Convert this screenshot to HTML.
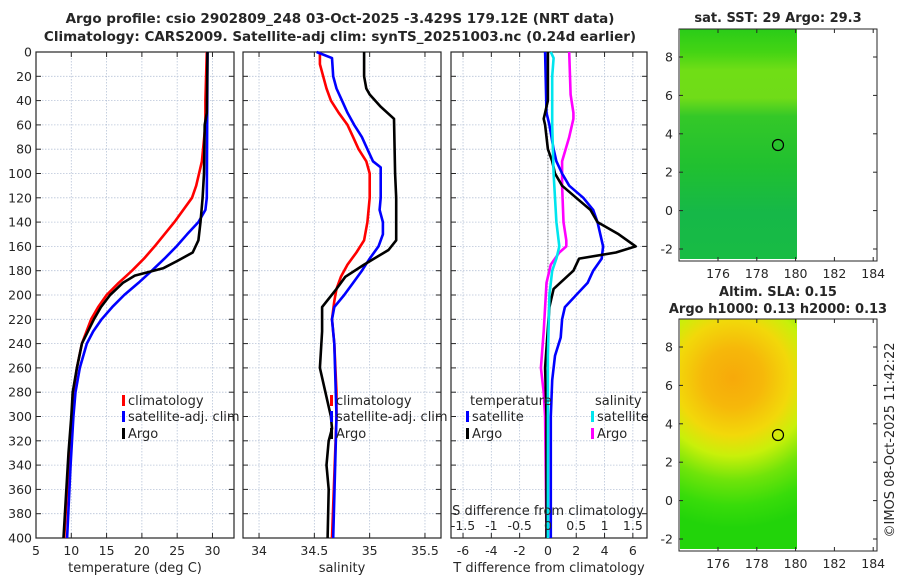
<!DOCTYPE html>
<html><head><meta charset="utf-8"><style>
body{margin:0;background:#fff;}
svg text{font-family:"DejaVu Sans","Liberation Sans",sans-serif;fill:#262626;}
</style></head><body>
<svg id="fig" width="900" height="580" viewBox="0 0 900 580" xmlns="http://www.w3.org/2000/svg">
<defs>
<radialGradient id="slaGrad" gradientUnits="userSpaceOnUse" cx="733" cy="378" r="150" fx="733" fy="378">
<stop offset="0" stop-color="#f7a90a"/><stop offset="0.2" stop-color="#f6b80a"/><stop offset="0.38" stop-color="#f2d80a"/><stop offset="0.52" stop-color="#c8f00a"/><stop offset="0.68" stop-color="#70e40a"/><stop offset="0.85" stop-color="#38dc0a"/><stop offset="1" stop-color="#22d40a"/>
</radialGradient>
<linearGradient id="sstGrad" x1="0" y1="0" x2="0" y2="1">
<stop offset="0" stop-color="#2acc18"/><stop offset="0.1" stop-color="#44d414"/><stop offset="0.18" stop-color="#70de16"/><stop offset="0.3" stop-color="#70dc18"/><stop offset="0.38" stop-color="#34c828"/><stop offset="0.6" stop-color="#20c030"/><stop offset="0.8" stop-color="#16b848"/><stop offset="1" stop-color="#18bc44"/>
</linearGradient>
</defs>
<text x="340" y="23" text-anchor="middle" font-size="13.5" font-weight="bold">Argo profile: csio 2902809_248 03-Oct-2025 -3.429S 179.12E (NRT data)</text>
<text x="340" y="41" text-anchor="middle" font-size="13.5" font-weight="bold">Climatology: CARS2009. Satellite-adj clim: synTS_20251003.nc (0.24d earlier)</text>
<g id="plots"></g>
<g>
<text x="778" y="22" text-anchor="middle" font-size="13" font-weight="bold">sat. SST: 29 Argo: 29.3</text>
<rect x="680" y="29" width="117" height="230" fill="url(#sstGrad)"/>
<rect x="679" y="29" width="198" height="232" fill="none" stroke="#262626" stroke-width="1"/>
<circle cx="778" cy="145" r="5.5" fill="none" stroke="#000" stroke-width="1.2"/>
</g>
<g>
<text x="778" y="296" text-anchor="middle" font-size="13" font-weight="bold">Altim. SLA: 0.15</text>
<text x="778" y="313" text-anchor="middle" font-size="13" font-weight="bold">Argo h1000: 0.13 h2000: 0.13</text>
<rect x="680" y="319" width="117" height="230" fill="url(#slaGrad)"/>
<rect x="679" y="319" width="198" height="232" fill="none" stroke="#262626" stroke-width="1"/>
<circle cx="778" cy="435" r="5.5" fill="none" stroke="#000" stroke-width="1.2"/>
</g>
<g id="maps"></g>
<text transform="translate(894,440) rotate(-90)" text-anchor="middle" font-size="13">©IMOS 08-Oct-2025 11:42:22</text>
</svg>
<script>
const depths1 = [0,40,60,90,110,120,140,160,170,180,190,200,210,220,240,260,280,300,340,400];
const tempClim = [29.2,29.0,29.0,28.5,27.7,27.1,24.6,21.8,20.3,18.6,16.7,15.0,13.8,12.8,11.5,10.8,10.3,10.1,9.6,9.0];
const depths2 = [0,120,130,140,150,160,170,180,190,200,210,220,230,240,260,280,300,340,400];
const tempSat = [29.3,29.2,29.0,28.0,26.4,24.9,23.2,21.4,19.5,17.5,15.8,14.3,13.1,12.2,11.2,10.6,10.3,9.9,9.4];
const depthsArgoT = [0,50,60,100,120,140,155,165,172,178,184,190,200,210,220,240,260,280,300,330,400];
const tempArgo = [29.3,29.2,28.9,28.8,28.6,28.3,28.0,27.2,25.0,23.0,19.0,17.3,15.5,14.2,13.2,11.5,10.8,10.2,10.0,9.6,8.9];

const depthsSC = [0,10,30,40,50,60,70,80,90,100,120,140,155,165,175,185,195,205,220,240,280,300,400];
const salClim = [34.55,34.55,34.61,34.65,34.72,34.8,34.85,34.9,34.97,35.0,35.0,34.98,34.95,34.88,34.8,34.74,34.7,34.68,34.66,34.68,34.7,34.7,34.66];
const depthsSS = [0,5,20,30,40,50,60,70,80,90,95,120,130,140,150,160,170,180,190,200,210,220,240,300,400];
const salSat = [34.52,34.66,34.67,34.7,34.75,34.8,34.86,34.93,34.98,35.03,35.1,35.1,35.09,35.12,35.12,35.08,35.0,34.93,34.85,34.77,34.68,34.66,34.68,34.7,34.67];
const depthsSA = [0,20,30,35,45,55,100,120,155,163,175,185,195,210,230,260,280,300,310,320,340,360,400];
const salArgo = [34.95,34.95,34.97,35.0,35.1,35.22,35.23,35.24,35.24,35.17,34.95,34.78,34.7,34.57,34.57,34.55,34.6,34.65,34.66,34.63,34.61,34.63,34.62];

const depthsDT = [0,50,60,80,90,100,110,120,130,140,160,170,180,190,200,210,220,235,250,270,300,400];
const dTsat = [-0.2,-0.1,0.1,0.4,0.6,1.0,1.5,2.5,3.2,3.5,3.9,3.8,3.2,2.8,2.0,1.2,1.0,0.9,0.5,0.3,0.2,0.2];
const depthsDA = [0,40,50,55,60,80,90,100,110,120,130,140,150,160,165,170,180,195,210,260,300,400];
const dTargo = [0,0,-0.2,-0.3,-0.2,0,0.3,0.5,1.0,2.0,3.0,3.5,5.0,6.2,4.8,2.2,1.8,0.4,0.1,-0.2,-0.1,-0.1];
const depthsDS = [0,5,20,60,100,140,160,170,180,200,250,300,400];
const dSsat = [0.05,0.1,0.075,0.075,0.1,0.15,0.2,0.15,0.075,0.025,0,0,0];
const depthsDSA = [0,35,50,55,70,90,110,140,155,160,165,175,190,230,260,280,300,400];
const dSargo = [0.375,0.4,0.45,0.45,0.375,0.25,0.25,0.275,0.325,0.325,0.2,0.05,-0.025,-0.075,-0.125,-0.075,-0.05,-0.025];

const depthTicks = [0,20,40,60,80,100,120,140,160,180,200,220,240,260,280,300,320,340,360,380,400];
const tTicks = [5,10,15,20,25,30];
const sTicks = [34,34.5,35,35.5];
const dTTicks = [-6,-4,-2,0,2,4,6];
const dSTicks = [-1.5,-1,-0.5,0,0.5,1,1.5];
const dSTickLabels = ['-1.5','-1','-0.5','0','0.5','1','1.5'];
const latTicks = [-2,0,2,4,6,8];
const lonTicks = [176,178,180,182,184];

const NS='http://www.w3.org/2000/svg';
const plots=document.getElementById('plots');
function el(tag,attrs,parent){const e=document.createElementNS(NS,tag);for(const k in attrs)e.setAttribute(k,attrs[k]);(parent||plots).appendChild(e);return e;}
const Y0=52,Y1=538;
const yD=d=>Y0+(Y1-Y0)*d/400;

const panels=[
 {name:'temperature-panel',x0:36,x1:234,v0:5,v1:33.05,ticks:tTicks,labels:tTicks.map(String),xlabel:'temperature (deg C)',ylabels:true},
 {name:'salinity-panel',x0:243,x1:441,v0:33.855,v1:35.645,ticks:sTicks,labels:['34','34.5','35','35.5'],xlabel:'salinity',ylabels:false},
 {name:'difference-panel',x0:451,x1:647,v0:-6.85,v1:7.0,ticks:dTTicks,labels:dTTicks.map(String),xlabel:'T difference from climatology',ylabels:false}
];
panels.forEach(p=>{
 p.sx=v=>p.x0+(p.x1-p.x0)*(v-p.v0)/(p.v1-p.v0);
 const g=el('g',{});
 
 
 p.g=g;
 depthTicks.forEach(d=>{
  const l=el('line',{x1:p.x0,x2:p.x1,y1:yD(d),y2:yD(d),stroke:'#b8c4d8','stroke-width':0.8,'stroke-dasharray':'1.5,1.5'},g);
  
  
  el('line',{x1:p.x0,x2:p.x0+5,y1:yD(d),y2:yD(d),stroke:'#262626'},g);
  el('line',{x1:p.x1-5,x2:p.x1,y1:yD(d),y2:yD(d),stroke:'#262626'},g);
  if(p.ylabels){const t=el('text',{x:p.x0-4,y:yD(d)+4.5,'text-anchor':'end','font-size':12.5},g);t.textContent=d;
   }
 });
 p.ticks.forEach((v,i)=>{
  const x=p.sx(v);
  el('line',{x1:x,x2:x,y1:Y0,y2:Y1,stroke:'#b8c4d8','stroke-width':0.8,'stroke-dasharray':'1.5,1.5'},g);
  el('line',{x1:x,x2:x,y1:Y1-5,y2:Y1,stroke:'#262626'},g);
  el('line',{x1:x,x2:x,y1:Y0,y2:Y0+5,stroke:'#262626'},g);
  const t=el('text',{x:x,y:555,'text-anchor':'middle','font-size':12.5},g);t.textContent=p.labels[i];
  
 });
 el('rect',{x:p.x0,y:Y0,width:p.x1-p.x0,height:Y1-Y0,fill:'none',stroke:'#262626','stroke-width':1.2},g);
 const xl=el('text',{x:(p.x0+p.x1)/2,y:572,'text-anchor':'middle','font-size':13},g);xl.textContent=p.xlabel;
 
});
function line(p,vals,deps,color,name,scale){
 const pts=vals.map((v,i)=>p.sx(v*(scale||1)).toFixed(1)+','+yD(deps[i]).toFixed(1)).join(' ');
 const e=el('polyline',{points:pts,fill:'none',stroke:color,'stroke-width':2.6,'stroke-linejoin':'round'},p.g);
 
 
}
const [P1,P2,P3]=panels;
line(P1,tempClim,depths1,'#ff0000','temp-climatology-line');
line(P1,tempSat,depths2,'#0000ff','temp-satellite-line');
line(P1,tempArgo,depthsArgoT,'#000000','temp-argo-line');
line(P2,salClim,depthsSC,'#ff0000','sal-climatology-line');
line(P2,salSat,depthsSS,'#0000ff','sal-satellite-line');
line(P2,salArgo,depthsSA,'#000000','sal-argo-line');
const zl=el('line',{x1:P3.sx(0),x2:P3.sx(0),y1:yD(85),y2:yD(185),stroke:'#555','stroke-width':1,'stroke-dasharray':'1,2'},P3.g);

line(P3,dSargo,depthsDSA,'#ff00ff','s-diff-argo-line',4);
line(P3,dTsat,depthsDT,'#0000ff','t-diff-satellite-line');
line(P3,dTargo,depthsDA,'#000000','t-diff-argo-line');
line(P3,dSsat,depthsDS,'#00e5ee','s-diff-satellite-line',4);
const st=el('text',{x:P3.sx(0),y:515,'text-anchor':'middle','font-size':13},P3.g);st.textContent='S difference from climatology';

dSTicks.forEach((v,i)=>{const t=el('text',{x:P3.sx(v*4),y:530,'text-anchor':'middle','font-size':12.5},P3.g);t.textContent=dSTickLabels[i];
 });
function legend(g,x,y,color,label,name){
 el('rect',{x:x,y:y-9,width:3,height:11,fill:color},g);
 const t=el('text',{x:x+6,y:y+1,'font-size':13},g);t.textContent=label;
 
}
legend(P1.g,122,404,'#ff0000','climatology','legend-climatology');
legend(P1.g,122,420,'#0000ff','satellite-adj. clim','legend-satellite-adj');
legend(P1.g,122,437,'#000000','Argo','legend-argo');
legend(P2.g,330,404,'#ff0000','climatology','legend-climatology');
legend(P2.g,330,420,'#0000ff','satellite-adj. clim','legend-satellite-adj');
legend(P2.g,330,437,'#000000','Argo','legend-argo');
const lt=el('text',{x:470,y:405,'font-size':13},P3.g);lt.textContent='temperature';

const ls=el('text',{x:595,y:405,'font-size':13},P3.g);ls.textContent='salinity';

legend(P3.g,466,420,'#0000ff','satellite','legend-t-satellite');
legend(P3.g,466,437,'#000000','Argo','legend-t-argo');
legend(P3.g,591,420,'#00e5ee','satellite','legend-s-satellite');
legend(P3.g,591,437,'#ff00ff','Argo','legend-s-argo');
const maps=document.getElementById('maps');
[[29,261],[319,551]].forEach(([top,bot])=>{
 const lat=v=>bot-12-(v+2)*19.2;
 latTicks.forEach(v=>{
  const y=lat(v);
  el('line',{x1:679,x2:683,y1:y,y2:y,stroke:'#262626'},maps);
  el('line',{x1:873,x2:877,y1:y,y2:y,stroke:'#262626'},maps);
  const t=el('text',{x:673,y:y+4.5,'text-anchor':'end','font-size':12.5},maps);t.textContent=v;
  
 });
 lonTicks.forEach(v=>{
  const x=718+(v-176)*19.4;
  el('line',{x1:x,x2:x,y1:bot-4,y2:bot,stroke:'#262626'},maps);
  el('line',{x1:x,x2:x,y1:top,y2:top+4,stroke:'#262626'},maps);
  const t=el('text',{x:x,y:bot+17,'text-anchor':'middle','font-size':12.5},maps);t.textContent=v;
  
 });
});
</script>
</body></html>
